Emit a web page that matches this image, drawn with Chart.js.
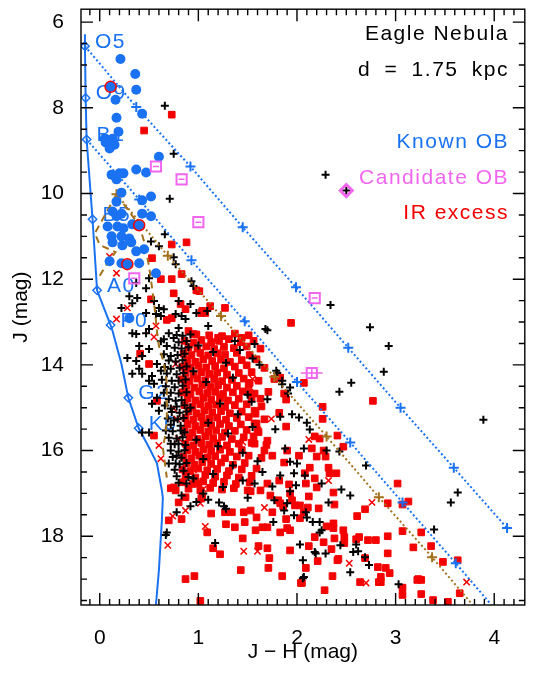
<!DOCTYPE html>
<html><head><meta charset="utf-8">
<script src="https://cdn.jsdelivr.net/npm/chart.js@4/dist/chart.umd.min.js"></script>
<style>html,body{margin:0;padding:0;background:#fff;}canvas{display:block;}</style>
</head><body>
<canvas id="c" width="534" height="675"></canvas>
<script>
// ---------- tick labels ----------
const xTickLabels = [0, 1, 2, 3, 4];
const yTickLabels = [6, 8, 10, 12, 14, 16, 18];

// ---------- main sequence (unreddened, d = 1.75 kpc) ----------
const msCurve = [[-0.15,6.28],[-0.15,6.56],[-0.143,7.77],[-0.133,8.74],[-0.073,10.60],[-0.027,12.26],[0.11,13.07],[0.13,13.21],[0.22,13.98],[0.29,14.77],[0.395,15.48],[0.50,15.93],[0.58,16.30],[0.63,16.93],[0.64,17.10],[0.63,17.63],[0.60,18.79],[0.57,19.60]];
const msTypes = ['O5','O9','B1','B5','A0','F0','G2','K0'];
const msTypePoints = [[-0.15,6.56],[-0.143,7.77],[-0.133,8.74],[-0.073,10.60],[-0.027,12.26],[0.11,13.07],[0.29,14.77],[0.395,15.48]];

// ---------- reddening vectors (markers every 5 mag of A_V) ----------
const reddenO5 = [[-0.15,6.56],[0.37,7.98],[0.92,9.37],[1.45,10.79],[1.99,12.19],[2.52,13.60],[3.05,15.00],[3.59,16.40],[4.13,17.81]];
const reddenB1 = [[-0.133,8.74],[0.40,10.14],[0.93,11.56],[1.47,12.98],[2.00,14.40],[2.54,15.81],[3.07,17.21],[3.61,18.63],[3.97,19.60]];
const reddenIso = [[0.17,10.02],[0.69,11.45],[1.23,12.86],[1.77,14.28],[2.30,15.67],[2.83,17.09],[3.37,18.49],[3.78,19.60]];

// ---------- pre-main-sequence isochrones ----------
const isoA = [[0.17,10.02],[-0.05,10.93],[0.00,11.20],[0.16,11.37],[0.07,11.65],[-0.02,12.00]];
const isoB = [[0.17,10.02],[0.40,10.74],[0.45,11.12],[0.50,11.70],[0.53,12.19],[0.56,12.74],[0.58,13.21],[0.60,13.56],[0.65,13.95],[0.68,14.42],[0.68,14.88],[0.68,15.35],[0.66,15.70],[0.64,15.93],[0.66,16.28],[0.68,16.63]];

// ---------- known OB stars ----------
const knownOB = [[0.21,6.86],[0.36,7.21],[0.11,7.51],[0.37,7.58],[0.16,7.81],[0.43,8.14],[0.17,8.23],[0.19,8.56],[0.05,8.72],[0.13,8.72],[0.06,8.81],[0.10,8.95],[0.15,8.86],[0.60,9.14],[0.12,9.56],[0.20,9.53],[0.24,9.53],[0.17,9.67],[0.37,9.44],[0.47,9.51],[0.22,9.98],[0.17,10.19],[0.43,10.16],[0.52,10.07],[0.13,10.42],[0.22,10.47],[0.17,10.53],[0.43,10.47],[0.52,10.53],[0.08,10.77],[0.18,10.77],[0.24,10.81],[0.33,10.72],[0.40,10.74],[0.12,11.00],[0.22,11.00],[0.30,11.05],[0.13,11.14],[0.32,11.14],[0.23,11.21],[0.37,11.35],[0.45,11.30],[0.10,11.58],[0.22,11.63],[0.28,11.65],[0.40,11.63],[0.57,11.86],[0.30,12.91]];
const knownOBExcess = [[0.11,7.51],[0.40,10.74],[0.28,11.65]];

// ---------- candidate OB stars ----------
const candidateOB = [[0.57,9.37],[0.83,9.67],[1.00,10.67],[0.35,11.98],[2.18,12.44],[2.15,14.19]];
const candidateErrX = [0.03,0.03,0.03,0.03,0.03,0.11];
const candidateErrJ = [0,0,0,0,0,0.11];
const candidateDiamond = [[2.50,9.93]];

// ---------- field stars (no IR excess) ----------
const fieldStars = [
[0.66,7.95],[0.75,9.07],[0.71,10.12],[2.29,9.56],[2.50,9.93],[2.34,12.60],[2.74,13.12],[1.70,13.19],[1.37,13.44],[1.68,13.16],[2.93,13.56],[2.88,14.16],[2.55,14.42],[2.43,14.63],[3.89,15.28],[3.63,16.98],[3.56,17.21],[3.39,17.84],[3.03,19.12],
[0.66,10.95],[0.52,11.12],[0.60,11.23],[0.75,11.49],[0.77,11.65],[0.50,11.98],[0.37,12.09],[0.47,12.21],[0.30,12.40],[0.38,12.44],[0.55,12.51],[0.33,12.56],[0.60,12.67],[0.65,12.70],[0.22,12.67],[0.47,12.79],[0.57,12.81],[0.62,12.86],[0.77,12.81],[0.83,12.86],[0.87,12.93],[0.93,12.05],[0.95,12.16],[0.80,12.51],[0.80,13.14],[0.92,12.58],[0.98,12.79],[1.10,13.09],[0.50,13.16],[0.37,13.28],[1.09,12.74],
[0.28,13.84],[0.37,13.91],[0.43,13.79],[0.40,13.56],[0.50,13.63],[0.33,14.21],[0.43,14.21],[0.53,14.26],[0.50,14.37],[0.55,14.44],[0.40,14.09],[0.58,13.98],[0.62,14.14],[0.65,13.40],[0.68,13.56],[0.75,13.37],[0.70,13.26],[0.33,13.26],[0.47,13.26],[0.72,13.79],[0.72,14.09],[0.73,14.37],[0.72,14.65],[0.77,14.84],[0.58,14.77],[0.53,14.91],[0.60,15.07],[0.72,15.02],[0.43,15.58],[0.50,15.58],[0.67,15.53],[0.75,15.30],[0.82,15.53],[0.72,15.84],[0.80,15.84],[0.78,16.12],[0.77,16.30],
[0.78,13.30],[0.84,13.32],[0.92,13.29],[0.62,13.45],[0.80,13.47],[0.88,13.44],[0.76,13.60],[0.83,13.62],[0.90,13.59],[0.65,13.75],[0.79,13.77],[0.86,13.74],[0.70,13.90],[0.77,13.92],[0.84,13.89],[0.66,14.05],[0.81,14.07],[0.88,14.04],[0.68,14.20],[0.78,14.22],[0.85,14.19],[0.63,14.35],[0.80,14.37],[0.87,14.34],[0.67,14.50],[0.76,14.52],[0.84,14.49],[0.65,14.65],[0.80,14.67],[0.88,14.64],[0.70,14.80],[0.83,14.82],[0.66,14.95],[0.78,14.97],[0.86,14.94],[0.73,15.10],[0.81,15.12],[0.88,15.09],[0.69,15.25],[0.79,15.27],[0.85,15.24],[0.72,15.40],[0.82,15.42],[0.74,15.55],[0.86,15.57],[0.70,15.70],[0.78,15.72],[0.84,15.69],[0.76,15.85],[0.87,15.87],[0.72,16.00],[0.80,16.02],[0.86,15.99],[0.74,16.15],[0.83,16.17],[0.70,16.30],[0.81,16.32],[0.88,16.29],[0.76,16.45],[0.85,16.47],[0.78,16.60],[0.90,16.62],[0.80,16.75],[0.88,16.77],
[1.00,13.55],[1.15,13.70],[1.28,13.95],[1.42,13.65],[0.95,14.15],[1.08,14.40],[1.35,14.30],[1.50,14.70],[1.22,14.90],[0.92,15.00],[1.40,15.15],[1.10,15.35],[1.55,15.45],[1.30,15.60],[0.98,15.75],[1.20,15.90],[1.45,16.05],[1.05,16.20],[1.35,16.35],[1.60,16.25],[1.15,16.55],[0.95,16.65],[1.45,16.70],[1.25,16.85],[1.05,17.00],[1.62,14.00],[1.70,14.80],[1.78,15.50],[1.88,15.95],[1.65,16.50],[1.55,13.85],[1.85,14.45],[1.95,15.15],[2.00,16.30],[1.50,17.10],[0.98,17.20],
[1.57,13.51],[1.80,14.19],[1.85,14.37],[1.93,14.53],[1.91,14.67],[1.54,14.86],[1.83,15.21],[2.02,15.23],[2.10,15.35],[2.13,15.51],[2.07,15.95],[2.30,16.00],[2.43,16.02],[2.70,16.35],[1.93,16.26],[1.79,14.14],
[2.25,16.77],[2.45,16.91],[2.54,17.05],[2.32,17.21],[2.09,17.44],[2.10,17.56],[1.97,17.51],[2.16,17.67],[2.23,17.67],[2.23,17.91],[2.25,17.86],[2.44,18.21],[2.60,18.19],[2.57,18.37],[2.62,18.35],[2.19,18.40],[2.29,18.40],[2.03,18.19],[2.06,18.56],[2.69,18.49],[2.73,18.67],[2.54,18.84],[2.07,18.95],[1.90,17.23],[1.87,17.40],[1.77,17.16],[1.76,17.67],[1.99,16.81],[2.08,16.58],[1.83,16.58],[1.97,16.53],[1.57,16.77],[1.75,16.84],[1.93,16.95],[2.18,18.37],[2.06,18.98],
[0.83,17.05],[0.78,17.44],[0.68,17.91],[0.67,17.97],[1.17,18.16],[1.21,17.21],[1.26,17.30],[1.28,17.36],[0.92,17.30],[1.10,17.15]
];

// ---------- IR-excess stars (filled squares) ----------
const irExcessSquares = [
[0.73,8.16],[0.45,8.53],[0.73,11.19],[0.88,11.14],[0.53,11.51],[0.62,12.00],[0.73,12.00],[0.83,11.88],[0.98,12.26],[0.75,12.33],[0.52,12.47],[0.82,12.58],[0.87,12.70],[1.03,12.79],[1.07,12.79],[1.12,12.63],[0.68,12.95],[0.73,12.91],[0.90,13.21],[0.95,13.28],[1.20,13.37],[1.27,12.67],[1.44,13.37],[1.01,12.28],[1.04,12.74],[0.41,13.74],[1.94,13.02],[0.50,13.98],[0.55,15.65],[0.58,14.84],
[0.98,13.29],[1.11,13.31],[1.24,13.33],[1.37,13.27],[1.51,13.31],
[0.86,13.44],[0.95,13.48],[1.03,13.42],[1.13,13.47],[1.21,13.44],[1.31,13.40],[1.43,13.47],[1.56,13.44],
[0.90,13.59],[0.99,13.62],[1.08,13.57],[1.16,13.63],[1.26,13.58],[1.36,13.61],[1.49,13.57],[1.63,13.62],
[0.85,13.74],[0.93,13.77],[1.02,13.72],[1.10,13.78],[1.19,13.73],[1.27,13.76],[1.39,13.72],[1.52,13.77],
[0.89,13.89],[0.97,13.93],[1.05,13.87],[1.14,13.91],[1.23,13.88],[1.32,13.93],[1.44,13.89],[1.59,13.87],
[0.84,14.04],[0.92,14.07],[1.00,14.02],[1.08,14.06],[1.17,14.03],[1.26,14.08],[1.37,14.04],[1.49,14.01],[1.67,14.07],
[0.87,14.19],[0.95,14.23],[1.03,14.17],[1.11,14.21],[1.19,14.18],[1.29,14.23],[1.41,14.19],[1.54,14.17],
[0.83,14.34],[0.91,14.38],[0.99,14.32],[1.07,14.36],[1.16,14.33],[1.24,14.38],[1.34,14.35],[1.46,14.32],[1.61,14.37],[1.77,14.33],
[0.88,14.49],[0.96,14.53],[1.04,14.47],[1.12,14.51],[1.20,14.48],[1.29,14.53],[1.39,14.49],[1.51,14.47],
[0.84,14.64],[0.92,14.68],[1.01,14.62],[1.09,14.66],[1.17,14.63],[1.25,14.68],[1.35,14.64],[1.45,14.62],[1.57,14.67],[1.71,14.63],
[0.89,14.79],[0.97,14.83],[1.05,14.77],[1.13,14.81],[1.22,14.78],[1.30,14.83],[1.41,14.79],[1.54,14.77],
[0.86,14.94],[0.94,14.98],[1.02,14.92],[1.10,14.96],[1.18,14.93],[1.27,14.98],[1.37,14.94],[1.49,14.92],[1.64,14.97],
[0.90,15.09],[0.98,15.13],[1.06,15.07],[1.14,15.11],[1.23,15.08],[1.32,15.13],[1.44,15.09],[1.57,15.07],
[0.87,15.24],[0.95,15.28],[1.03,15.22],[1.11,15.26],[1.19,15.23],[1.28,15.28],[1.39,15.24],[1.51,15.22],[1.67,15.27],
[0.89,15.39],[0.97,15.43],[1.05,15.37],[1.13,15.41],[1.22,15.38],[1.31,15.43],[1.43,15.39],[1.59,15.37],
[0.86,15.54],[0.94,15.58],[1.02,15.52],[1.10,15.56],[1.18,15.53],[1.27,15.58],[1.37,15.54],[1.49,15.52],[1.61,15.57],
[0.91,15.69],[0.99,15.73],[1.07,15.67],[1.15,15.71],[1.24,15.68],[1.34,15.73],[1.46,15.69],[1.56,15.67],
[0.87,15.84],[0.95,15.88],[1.03,15.82],[1.11,15.86],[1.19,15.83],[1.29,15.88],[1.41,15.84],[1.54,15.82],[1.69,15.87],
[0.89,15.99],[0.97,16.03],[1.05,15.97],[1.13,16.01],[1.22,15.98],[1.32,16.03],[1.44,15.99],
[0.85,16.14],[0.93,16.18],[1.01,16.12],[1.09,16.16],[1.17,16.13],[1.27,16.18],[1.39,16.14],[1.51,16.12],[1.64,16.17],
[0.88,16.29],[0.96,16.33],[1.04,16.27],[1.13,16.31],[1.23,16.28],[1.35,16.33],[1.47,16.29],
[0.84,16.44],[0.92,16.48],[1.00,16.42],[1.09,16.46],[1.19,16.43],[1.31,16.48],[1.44,16.44],[1.59,16.42],
[0.87,16.59],[0.97,16.63],[1.07,16.57],[1.17,16.61],[1.29,16.58],[1.41,16.63],[1.54,16.59],
[0.84,16.74],[0.94,16.78],[1.05,16.72],[1.15,16.76],[1.26,16.73],[1.38,16.78],[1.52,16.74],
[0.90,16.89],[1.02,16.93],[1.12,16.87],[1.24,16.91],[1.36,16.88],[1.50,16.93],
[1.52,14.42],[1.52,14.65],[1.63,14.79],[1.58,15.14],[1.57,15.37],[1.60,15.53],[1.70,15.77],[1.67,16.00],[1.57,15.84],[1.75,16.12],[1.90,16.00],[2.02,16.12],[1.87,16.28],
[1.83,14.30],[2.07,14.42],[1.87,14.67],[1.89,14.81],[2.26,14.98],[1.82,15.12],[2.26,15.26],[1.89,15.44],[2.41,15.65],[2.18,15.67],[2.23,15.72],[2.15,15.95],[2.27,16.00],[2.47,15.91],[2.20,16.14],[2.29,16.14],[2.13,16.40],[2.32,16.40],[2.77,14.84],
[2.18,16.65],[2.33,16.53],[2.40,16.53],[2.20,16.86],[2.37,16.98],[2.12,17.07],[2.38,17.26],[2.22,17.35],[2.11,17.33],[2.03,17.28],[2.07,17.44],[2.03,17.58],[1.89,17.60],[2.30,17.77],[2.37,17.70],[2.37,17.81],[2.18,18.02],[2.47,17.86],[2.48,18.16],[2.38,18.05],[2.27,18.14],[2.35,18.30],[2.12,18.23],[1.93,18.33],[1.70,18.28],[1.61,18.23],[2.42,18.53],[2.21,18.58],[1.72,18.51],[1.71,18.74],[2.09,18.74],[2.82,18.72],[2.92,18.40],[2.90,18.74],[2.94,18.86],[1.85,18.93],[2.36,18.93],[2.05,19.09],[2.64,19.07],[2.83,19.07],[2.28,19.26],[2.63,18.02],[2.72,18.09],[2.80,18.09],[1.53,17.40],[1.59,17.56],[1.75,17.44],[1.65,17.79],[1.58,17.86],[1.70,17.79],[1.83,17.91],[1.90,17.81],[1.93,17.86],[1.95,17.16],[1.83,17.23],[1.81,17.16],[1.86,17.30],[1.98,17.28],[1.73,17.05],[1.93,17.00],[1.92,16.79],[2.09,16.77],[1.82,16.70],[2.08,16.53],[1.70,16.77],[1.63,16.93],[1.53,16.95],
[2.69,17.37],[2.61,17.53],[2.69,18.51],[2.85,18.95],[2.41,18.56],[2.48,18.02],[2.60,18.07],[2.04,19.09],[3.02,16.77],[3.13,17.19],[3.07,17.26],[2.92,17.23],[3.07,17.88],[3.26,17.91],[2.92,18.00],[3.36,18.23],[3.18,18.26],[3.48,18.60],[3.63,18.56],[3.22,19.02],[3.26,19.02],[3.07,19.20],[3.07,19.37],[3.26,19.35],[3.38,19.49],[3.53,19.53],[3.65,19.33],[3.23,19.00],[2.85,19.07],
[0.75,16.86],[0.80,17.21],[0.70,17.63],[0.83,17.60],[0.87,19.00],[0.96,18.93],[1.02,19.51],[1.15,18.28],[1.22,18.42],[1.09,17.91],[1.03,17.12],[1.13,17.47],[1.27,17.44],[1.34,17.44],[1.28,17.72],[1.37,17.79],[1.46,17.44],[1.47,17.67],[1.45,18.05],[1.43,18.79],[1.04,17.09],[0.72,16.88],[0.77,16.93],[0.87,17.09],[1.00,16.77]
];

// ---------- IR-excess stars (crosses) ----------
const irExcessCrosses = [[0.10,11.47],[0.17,11.86],[0.28,12.67],[0.17,12.93],[0.57,13.09],[0.55,13.35],[0.77,13.98],[0.75,15.02],[0.60,15.88],[0.62,16.19],[0.80,15.72],[0.78,15.26],[1.55,14.33],[1.74,15.26],[2.12,15.74],[2.32,16.70],[2.76,17.21],[2.53,18.63],[2.70,19.09],[3.72,19.07],[0.87,17.40],[0.74,17.53],[0.69,18.21],[1.07,17.77],[1.02,17.23],[1.46,18.35],[1.67,17.33],[1.60,18.35],[1.25,13.55],[1.45,15.80],[1.05,16.90],[0.95,16.45]];

// ---------- styling ----------
const BLUE = '#1a72f2', RED = '#f40000', MAG = '#f066ee', BROWN = '#a3701c', FONT = '"Liberation Sans", Arial, sans-serif';
const xy = a => a.map(p => ({x: p[0], y: p[1]}));

const textPlugin = {
  id: 'texts',
  beforeDatasetsDraw(chart) {
    const {ctx, scales: {x, y}} = chart;
    ctx.save();
    ctx.font = '21px ' + FONT; ctx.fillStyle = BLUE; ctx.textAlign = 'left'; ctx.textBaseline = 'alphabetic';
    try { ctx.letterSpacing = '1.5px'; } catch (e) {}
    msTypes.forEach((t, i) => {
      ctx.fillText(t, x.getPixelForValue(msTypePoints[i][0]) + 10, y.getPixelForValue(msTypePoints[i][1]) + 1.5);
    });
    ctx.restore();
  },
  afterDraw(chart) {
    const {ctx, chartArea: a, scales: {x, y}} = chart;
    ctx.save();
    ctx.strokeStyle = '#000'; ctx.lineWidth = 1.4;
    ctx.strokeRect(a.left, a.top, a.right - a.left, a.bottom - a.top);
    ctx.beginPath();
    for (let i = -1; i <= 43; i++) {
      const p = x.getPixelForValue(i / 10);
      if (p <= a.left + 1 || p >= a.right - 1) continue;
      const L = (i % 10 === 0) ? 12 : 6;
      ctx.moveTo(p, a.bottom); ctx.lineTo(p, a.bottom - L);
      ctx.moveTo(p, a.top); ctx.lineTo(p, a.top + L);
    }
    for (let i = 12; i <= 39; i++) {
      const p = y.getPixelForValue(i / 2);
      if (p <= a.top + 1 || p >= a.bottom - 1) continue;
      const L = (i % 4 === 0) ? 12 : 6;
      ctx.moveTo(a.left, p); ctx.lineTo(a.left + L, p);
      ctx.moveTo(a.right, p); ctx.lineTo(a.right - L, p);
    }
    ctx.stroke();
    ctx.font = '21px ' + FONT; ctx.textAlign = 'right'; ctx.textBaseline = 'alphabetic';
    try { ctx.letterSpacing = '1.5px'; } catch (e) {}
    ctx.fillStyle = '#000';
    ctx.fillText('Eagle Nebula', 509, 40);
    try { ctx.wordSpacing = '6px'; } catch (e) {}
    ctx.fillText('d = 1.75 kpc', 509, 76);
    try { ctx.wordSpacing = '0px'; } catch (e) {}
    ctx.fillStyle = BLUE; ctx.fillText('Known OB', 509, 148);
    ctx.fillStyle = MAG; ctx.fillText('Candidate OB', 509, 184);
    ctx.fillStyle = RED; ctx.fillText('IR excess', 509, 219);
    ctx.restore();
  },
  afterDatasetsDraw(chart) {
    const {ctx, scales: {x, y}} = chart;
    ctx.save(); ctx.strokeStyle = MAG; ctx.lineWidth = 1.5; ctx.beginPath();
    candidateOB.forEach((p, i) => {
      const px = x.getPixelForValue(p[0]), py = y.getPixelForValue(p[1]);
      ctx.moveTo(x.getPixelForValue(p[0] - candidateErrX[i]), py);
      ctx.lineTo(x.getPixelForValue(p[0] + candidateErrX[i]), py);
      if (candidateErrJ[i] > 0) {
        ctx.moveTo(px, y.getPixelForValue(p[1] - candidateErrJ[i]));
        ctx.lineTo(px, y.getPixelForValue(p[1] + candidateErrJ[i]));
      }
    });
    ctx.stroke(); ctx.restore();
  }
};

const lineSet = (data, color, dash, markers, order, width) => ({
  data: xy(data), showLine: true, borderColor: color, borderWidth: width || 2, borderDash: dash,
  pointStyle: 'cross', pointRadius: data.map((p, i) => markers(i) ? 5 : 0),
  pointBorderColor: color, pointBorderWidth: 2, backgroundColor: color, order: order
});

new Chart(document.getElementById('c'), {
  type: 'scatter',
  data: { datasets: [
    { data: xy(candidateDiamond), pointStyle: 'rectRot', pointRadius: 6, borderColor: MAG, borderWidth: 3, backgroundColor: 'rgba(0,0,0,0)', order: 1 },
    { data: xy(candidateOB), pointStyle: 'rect', pointRadius: 7.2, borderColor: MAG, borderWidth: 2, backgroundColor: 'rgba(0,0,0,0)', order: 2 },
    { data: xy(knownOBExcess), pointStyle: 'circle', pointRadius: 5.5, borderColor: RED, borderWidth: 1.5, backgroundColor: 'rgba(0,0,0,0)', order: 3 },
    { data: xy(knownOB), pointStyle: 'circle', pointRadius: 5, borderColor: BLUE, borderWidth: 0, backgroundColor: BLUE, order: 4 },
    lineSet(reddenO5, BLUE, [2, 2.4], i => i > 0, 5),
    lineSet(reddenB1, BLUE, [2, 2.4], i => i > 0 && i < reddenB1.length - 1, 5),
    lineSet(reddenIso, BROWN, [2, 2.6], i => i < reddenIso.length - 1, 5),
    { data: xy(isoA), showLine: true, borderColor: BROWN, borderWidth: 2, borderDash: [7, 5], pointRadius: 0, order: 5.5 },
    { data: xy(isoB), showLine: true, borderColor: BROWN, borderWidth: 2, borderDash: [7, 5], pointRadius: 0, order: 5.5 },
    { data: xy(fieldStars), pointStyle: 'cross', pointRadius: 4, borderColor: '#000', borderWidth: 2, order: 6 },
    { data: xy(irExcessCrosses), pointStyle: 'crossRot', pointRadius: 4.5, borderColor: RED, borderWidth: 1.5, order: 7 },
    { data: xy(irExcessSquares), pointStyle: 'rect', pointRadius: 4.7, borderColor: RED, borderWidth: 1, backgroundColor: RED, order: 8 },
    { data: xy(msTypePoints), pointStyle: 'rectRot', pointRadius: 4.2, borderColor: BLUE, borderWidth: 1.5, backgroundColor: 'rgba(0,0,0,0)', order: 10 },
    { data: xy(msCurve), showLine: true, borderColor: BLUE, borderWidth: 2, pointRadius: 0, order: 11 }
  ]},
  options: {
    responsive: false, devicePixelRatio: 1, animation: false, events: [],
    layout: { padding: { top: 7, right: 3, left: 0, bottom: 0 } },
    plugins: { legend: { display: false }, tooltip: { enabled: false } },
    elements: { line: { tension: 0 } },
    scales: {
      x: {
        type: 'linear', min: -0.19, max: 4.31,
        afterFit: s => { s.height = 70; s.paddingLeft = 0; s.paddingRight = 0; },
        grid: { display: false }, border: { display: false },
        ticks: { stepSize: 1, includeBounds: false, padding: 13, color: '#000', maxRotation: 0, autoSkip: false,
                 font: { family: FONT, size: 21 }, callback: v => xTickLabels.includes(v) ? String(v) : '' },
        title: { display: true, text: 'J \u2212 H (mag)', color: '#000', font: { family: FONT, size: 21 }, padding: { top: 0, bottom: 10 } }
      },
      y: {
        type: 'linear', reverse: true, min: 5.698, max: 19.605,
        afterFit: s => { s.width = 81; s.paddingTop = 0; s.paddingBottom = 0; },
        grid: { display: false }, border: { display: false },
        ticks: { stepSize: 2, includeBounds: false, padding: 9, color: '#000', autoSkip: false,
                 font: { family: FONT, size: 21 }, callback: v => yTickLabels.includes(v) ? String(v) : '' },
        title: { display: true, text: 'J (mag)', color: '#000', font: { family: FONT, size: 21 }, padding: { top: 9, bottom: 0 } }
      }
    }
  },
  plugins: [textPlugin]
});
</script>
</body></html>
